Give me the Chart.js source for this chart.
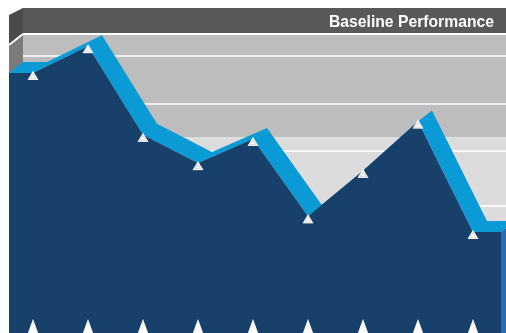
<!DOCTYPE html>
<html>
<head>
<meta charset="utf-8">
<script src="https://cdn.jsdelivr.net/npm/chart.js@4/dist/chart.umd.min.js"></script>
<style>
  html, body { margin: 0; padding: 0; background: #fff; }
  canvas { display: block; }
</style>
</head>
<body>
<canvas id="chart" width="506" height="333"></canvas>
<script>
// data
const categories = ["1", "2", "3", "4", "5", "6", "7", "8", "9"];
const baselineValues = [90.3, 99.6, 68.8, 59.0, 67.4, 40.5, 56.3, 73.4, 35.1];
const floorValues = [4.2, 4.2, 4.2, 4.2, 4.2, 4.2, 4.2, 4.2, 4.2];
const gridValues = [100, 92.4, 75.7, 59.4, 40.3];
const bandEdges = [100, 64.2, 0];

const title = "Baseline Performance";
const xMin = -0.436;
const xMax = 8.51;

// styles
const navy = "#17406a";
const topBlue = "#0a9bd7";
const capBlue = "#2a6db3";
const bandColors = ["#bdbdbd", "#dcdcdc"];
const headerGray = "#595959";
const depth = { x: 14, y: -11 };

function makeMarker(w, h, tipY, baseY, halfW) {
  const c = document.createElement("canvas");
  c.width = w;
  c.height = h;
  const g = c.getContext("2d");
  const cx = w / 2;
  g.fillStyle = "#ffffff";
  g.beginPath();
  g.moveTo(cx, tipY);
  g.lineTo(cx + halfW, baseY);
  g.lineTo(cx - halfW, baseY);
  g.closePath();
  g.fill();
  return c;
}

const markerImg = makeMarker(12, 20, 8, 17, 5.5);
(function () {
  // faint inner outline like the original markers
  const g = markerImg.getContext("2d");
  g.strokeStyle = "rgba(0,0,0,0.15)";
  g.lineWidth = 1;
  g.beginPath();
  g.moveTo(6, 11);
  g.lineTo(8.8, 15.5);
  g.lineTo(3.2, 15.5);
  g.closePath();
  g.stroke();
})();
const floorImg = makeMarker(16, 40, 18, 40, 8);

const markerPoints = baselineValues.map((v, i) => ({ x: i, y: v }));
const floorPoints = floorValues.map((v, i) => ({ x: i, y: v }));
const areaPoints = [
  { x: xMin, y: baselineValues[0] },
  ...markerPoints,
  { x: xMax, y: baselineValues[baselineValues.length - 1] },
];

function poly(ctx, pts) {
  // keep every quad in the same winding so overlaps never cancel out
  let s = 0;
  for (let i = 0; i < pts.length; i++) {
    const a = pts[i], b = pts[(i + 1) % pts.length];
    s += a.x * b.y - b.x * a.y;
  }
  const list = s < 0 ? pts.slice().reverse() : pts;
  ctx.moveTo(list[0].x, list[0].y);
  for (let i = 1; i < list.length; i++) ctx.lineTo(list[i].x, list[i].y);
  ctx.closePath();
}

const wall3d = {
  id: "wall3d",
  beforeDatasetsDraw(chart) {
    const { ctx, chartArea: a, scales } = chart;
    const y = scales.y;
    const W = chart.width;
    const bx = a.left + depth.x;
    ctx.save();

    // back wall bands
    for (let i = 0; i < bandEdges.length - 1; i++) {
      const y1 = y.getPixelForValue(bandEdges[i]) + depth.y;
      const y2 = y.getPixelForValue(bandEdges[i + 1]) + depth.y;
      ctx.fillStyle = bandColors[i % bandColors.length];
      ctx.fillRect(bx, y1, W - bx, y2 - y1);
    }

    // header strip on top of the wall
    const wallTop = y.getPixelForValue(bandEdges[0]) + depth.y;
    ctx.fillStyle = headerGray;
    ctx.fillRect(bx, 8, W - bx, wallTop - 8);

    // grid lines on the back wall
    ctx.strokeStyle = "#ffffff";
    gridValues.forEach((v, i) => {
      const gy = y.getPixelForValue(v) + depth.y;
      ctx.lineWidth = i === 0 ? 2 : 1.5;
      ctx.beginPath();
      ctx.moveTo(bx, gy);
      ctx.lineTo(W, gy);
      ctx.stroke();
    });

    // left side wall
    const frontTop = y.getPixelForValue(bandEdges[0]);
    ctx.fillStyle = "#4b4b4b";
    ctx.beginPath();
    poly(ctx, [
      { x: a.left, y: 15 },
      { x: bx, y: 8 },
      { x: bx, y: wallTop },
      { x: a.left, y: frontTop },
    ]);
    ctx.fill();
    ctx.fillStyle = "#7b7b7b";
    ctx.beginPath();
    poly(ctx, [
      { x: a.left, y: frontTop },
      { x: bx, y: wallTop },
      { x: bx, y: a.bottom },
      { x: a.left, y: a.bottom },
    ]);
    ctx.fill();
    ctx.strokeStyle = "#ffffff";
    ctx.lineWidth = 2;
    ctx.beginPath();
    ctx.moveTo(a.left, frontTop);
    ctx.lineTo(bx, wallTop);
    ctx.stroke();

    // title
    ctx.fillStyle = "#ffffff";
    ctx.font = 'bold 17px "Liberation Sans Narrow", "Liberation Sans", Arial, sans-serif';
    ctx.textAlign = "right";
    ctx.textBaseline = "alphabetic";
    ctx.fillText(title, W - 12, 27, 165);

    // depth of the area: top faces and end caps
    const meta = chart.getDatasetMeta(2);
    const pts = meta.data.map((p) => ({ x: p.x, y: p.y }));
    const sh = (p) => ({ x: p.x + depth.x, y: p.y + depth.y });
    ctx.fillStyle = topBlue;
    ctx.beginPath();
    const first = pts[0];
    poly(ctx, [first, sh(first), { x: first.x + depth.x, y: a.bottom }, { x: first.x, y: a.bottom }]);
    for (let i = 0; i < pts.length - 1; i++) {
      poly(ctx, [pts[i], pts[i + 1], sh(pts[i + 1]), sh(pts[i])]);
    }
    ctx.fill("nonzero");

    const last = pts[pts.length - 1];
    ctx.fillStyle = capBlue;
    ctx.beginPath();
    poly(ctx, [last, sh(last), { x: last.x + depth.x, y: a.bottom }, { x: last.x, y: a.bottom }]);
    ctx.fill();

    ctx.restore();
  },
};

new Chart(document.getElementById("chart"), {
  type: "line",
  data: {
    datasets: [
      {
        label: title,
        data: markerPoints,
        order: 0,
        showLine: false,
        pointStyle: markerImg,
        pointRadius: 6,
        clip: false,
      },
      {
        label: "floor",
        data: floorPoints,
        order: 1,
        showLine: false,
        pointStyle: floorImg,
        pointRadius: 6,
        clip: false,
      },
      {
        label: "area",
        data: areaPoints,
        order: 2,
        fill: "start",
        backgroundColor: navy,
        borderColor: "rgba(0,0,0,0)",
        borderWidth: 0,
        pointRadius: 0,
        tension: 0,
      },
    ],
  },
  options: {
    responsive: false,
    animation: false,
    events: [],
    layout: { autoPadding: false, padding: { left: 9, right: 5, top: 45, bottom: 0 } },
    plugins: {
      legend: { display: false },
      tooltip: { enabled: false },
      title: { display: false },
    },
    scales: {
      x: {
        type: "linear",
        min: xMin,
        max: xMax,
        display: false,
        ticks: { callback: (v) => categories[v] },
      },
      y: { min: 0, max: 100, display: false },
    },
  },
  plugins: [wall3d],
});
</script>
</body>
</html>
